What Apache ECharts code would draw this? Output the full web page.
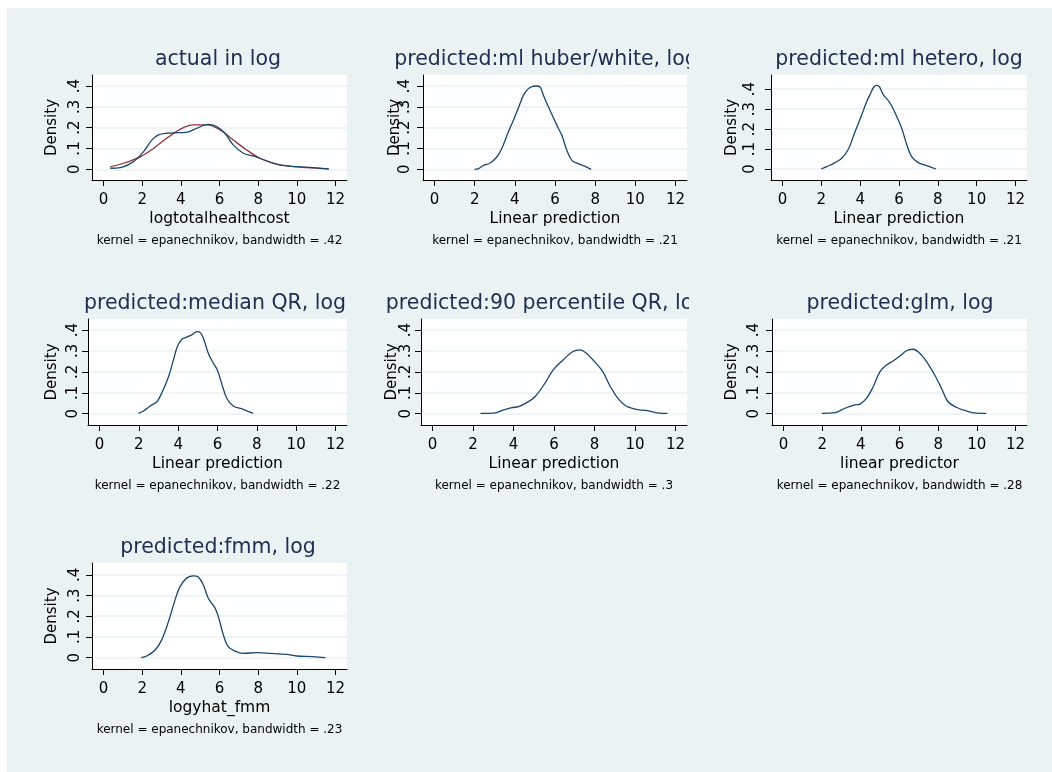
<!DOCTYPE html>
<html>
<head>
<meta charset="utf-8">
<script src="https://cdn.jsdelivr.net/npm/echarts@6/dist/echarts.min.js"></script>
<style>
  html, body { margin: 0; padding: 0; background: #ffffff; }
  #frame { position: absolute; left: 7px; top: 8px; right: 0; bottom: 0; background: #eaf2f3; }
  #chart { position: absolute; left: 0; top: 0; width: 1052px; height: 772px; }
</style>
</head>
<body>
<div id="frame"></div>
<div id="chart"></div>
<script>
// Kernel density panels: actual log health cost vs. predictions from several models.

const panelTitles = [
  'actual in log',
  'predicted:ml huber/white, log',
  'predicted:ml hetero, log',
  'predicted:median QR, log',
  'predicted:90 percentile QR, log',
  'predicted:glm, log',
  'predicted:fmm, log'
];
const xAxisTitles = [
  'logtotalhealthcost',
  'Linear prediction',
  'Linear prediction',
  'Linear prediction',
  'Linear prediction',
  'linear predictor',
  'logyhat_fmm'
];
const bandwidths = ['.42', '.21', '.21', '.22', '.3', '.28', '.23'];
const yAxisTitle = 'Density';

const xTicks = [0, 2, 4, 6, 8, 10, 12];
const yTicks = [0, 0.1, 0.2, 0.3, 0.4];
const yTickLabels = ['0', '.1', '.2', '.3', '.4'];

// [x, density] pairs
const kdActual = [
  [0.35, 0.005], [0.86, 0.008], [1.55, 0.037], [2.07, 0.085], [2.5, 0.14],
  [2.84, 0.165], [3.27, 0.173], [3.96, 0.176], [4.39, 0.18], [4.82, 0.197],
  [5.42, 0.216], [5.85, 0.205], [6.28, 0.173], [6.71, 0.117], [7.23, 0.077],
  [7.74, 0.064], [8.43, 0.041], [9.12, 0.021], [9.98, 0.013], [10.84, 0.008],
  [11.65, 0.002]
];
const normalActual = [
  [0.35, 0.012], [1.03, 0.029], [1.9, 0.06], [2.58, 0.1], [3.27, 0.149],
  [3.96, 0.192], [4.65, 0.213], [5.34, 0.213], [6.03, 0.189], [6.71, 0.141],
  [7.4, 0.093], [8.09, 0.053], [8.78, 0.029], [9.47, 0.016], [10.5, 0.008],
  [11.65, 0.002]
];
const kdHuber = [
  [1.99, 0.0], [2.19, 0.003], [2.44, 0.019], [2.77, 0.03], [3.1, 0.059],
  [3.35, 0.1], [3.68, 0.18], [3.93, 0.236], [4.23, 0.308], [4.43, 0.356],
  [4.65, 0.385], [4.85, 0.397], [5.05, 0.4], [5.25, 0.396], [5.42, 0.356],
  [5.67, 0.3], [6.09, 0.212], [6.34, 0.163], [6.59, 0.091], [6.84, 0.043],
  [7.16, 0.027], [7.5, 0.014], [7.8, 0.0]
];
const kdHetero = [
  [1.99, 0.0], [2.28, 0.012], [2.71, 0.032], [3.05, 0.054], [3.39, 0.099],
  [3.74, 0.187], [4.08, 0.271], [4.34, 0.338], [4.51, 0.372], [4.7, 0.41],
  [4.85, 0.418], [5.0, 0.41], [5.19, 0.372], [5.54, 0.33], [5.88, 0.263],
  [6.14, 0.204], [6.4, 0.121], [6.65, 0.062], [6.99, 0.032], [7.42, 0.017],
  [7.9, 0.0]
];
const kdMedianQR = [
  [1.99, 0.002], [2.24, 0.013], [2.58, 0.037], [2.92, 0.057], [3.17, 0.1],
  [3.51, 0.177], [3.76, 0.257], [3.96, 0.321], [4.19, 0.356], [4.44, 0.366],
  [4.69, 0.377], [4.95, 0.392], [5.08, 0.391], [5.28, 0.361], [5.53, 0.289],
  [5.79, 0.241], [5.99, 0.209], [6.21, 0.145], [6.47, 0.074], [6.8, 0.037],
  [7.31, 0.021], [7.81, 0.002]
];
const kd90QR = [
  [2.37, 0.002], [3.02, 0.003], [3.51, 0.018], [3.92, 0.029], [4.25, 0.034],
  [4.66, 0.053], [5.06, 0.081], [5.55, 0.145], [5.96, 0.209], [6.45, 0.257],
  [6.94, 0.297], [7.27, 0.305], [7.6, 0.289], [8.0, 0.249], [8.41, 0.201],
  [8.74, 0.137], [9.15, 0.074], [9.56, 0.037], [10.21, 0.018], [10.54, 0.016],
  [11.19, 0.003], [11.6, 0.002]
];
const kdGlm = [
  [1.98, 0.002], [2.67, 0.005], [3.18, 0.026], [3.7, 0.042], [3.96, 0.046],
  [4.3, 0.074], [4.64, 0.129], [4.99, 0.201], [5.33, 0.233], [5.67, 0.252],
  [6.02, 0.276], [6.36, 0.301], [6.7, 0.308], [7.05, 0.289], [7.4, 0.249],
  [7.82, 0.185], [8.17, 0.122], [8.51, 0.057], [8.94, 0.031], [9.46, 0.013],
  [9.97, 0.003], [10.49, 0.002]
];
const kdFmm = [
  [1.95, 0.0], [2.24, 0.008], [2.67, 0.037], [3.01, 0.086], [3.36, 0.174],
  [3.7, 0.279], [3.96, 0.343], [4.3, 0.384], [4.65, 0.395], [4.9, 0.389],
  [5.16, 0.352], [5.42, 0.287], [5.77, 0.239], [5.94, 0.198], [6.2, 0.11],
  [6.45, 0.053], [6.8, 0.032], [7.23, 0.021], [7.92, 0.024], [8.61, 0.021],
  [9.47, 0.016], [9.98, 0.008], [10.84, 0.005], [11.48, 0.0]
];

const panelCurves = [
  [kdActual, normalActual],
  [kdHuber], [kdHetero], [kdMedianQR], [kd90QR], [kdGlm], [kdFmm]
];

// plot-region geometry of each panel (pixels), title centre and density range
const layout = [
  { left: 92,  top: 75,  width: 255, height: 105, titleX: 218, ymin: -0.0514, ymax: 0.4528, lblGap: 9,  nameGap: 32 },
  { left: 423, top: 75,  width: 264, height: 105, titleX: 546, ymin: -0.0514, ymax: 0.4528, lblGap: 10, nameGap: 20 },
  { left: 771, top: 75,  width: 256, height: 105, titleX: 899, ymin: -0.055,  ymax: 0.47,   lblGap: 13, nameGap: 31 },
  { left: 88,  top: 319, width: 259, height: 106, titleX: 215, ymin: -0.054,  ymax: 0.4526, lblGap: 7,  nameGap: 28 },
  { left: 421, top: 319, width: 266, height: 106, titleX: 546, ymin: -0.054,  ymax: 0.4526, lblGap: 7,  nameGap: 21 },
  { left: 772, top: 319, width: 255, height: 106, titleX: 900, ymin: -0.054,  ymax: 0.4526, lblGap: 10, nameGap: 32 },
  { left: 92,  top: 563, width: 255, height: 106, titleX: 218, ymin: -0.0547, ymax: 0.457,  lblGap: 9,  nameGap: 32 }
];

const BG = '#eaf2f3';
const NAVY = '#1a476f';
const MAROON = '#90353b';
const TITLE_COLOR = '#1e2d50';
const FONT = '"DejaVu Sans", "Liberation Sans", Arial, sans-serif';
const SIDE_PAD = 11.5; // px between plot edge and first/last x tick
const TITLE_CLIP_X = 689; // right edge of the middle column's title area

const grids = [], xAxes = [], yAxes = [], series = [], graphics = [];

layout.forEach((p, i) => {
  grids.push({
    left: p.left, top: p.top, width: p.width, height: p.height,
    show: true, backgroundColor: '#ffffff', borderWidth: 0,
    containLabel: false, outerBoundsMode: 'none'
  });

  const unitPx = (p.width - 2 * SIDE_PAD) / (xTicks[xTicks.length - 1] - xTicks[0]);
  const xPad = SIDE_PAD / unitPx;

  xAxes.push({
    gridIndex: i, type: 'value',
    min: xTicks[0] - xPad, max: xTicks[xTicks.length - 1] + xPad,
    name: xAxisTitles[i], nameLocation: 'middle', nameGap: 31,
    nameMoveOverlap: false,
    nameTextStyle: { fontFamily: FONT, fontSize: 15.5, color: '#000' },
    axisLine: { show: true, onZero: false, lineStyle: { color: '#000', width: 1 } },
    axisTick: { show: true, customValues: xTicks, length: 6, lineStyle: { color: '#000', width: 1 } },
    axisLabel: {
      show: true, customValues: xTicks, margin: 13,
      fontFamily: FONT, fontSize: 15, color: '#000',
      formatter: v => String(Math.round(v))
    },
    splitLine: { show: false }
  });

  yAxes.push({
    gridIndex: i, type: 'value',
    min: p.ymin, max: p.ymax,
    name: yAxisTitle, nameLocation: 'middle', nameRotate: 90, nameGap: p.nameGap,
    nameMoveOverlap: false,
    nameTextStyle: { fontFamily: FONT, fontSize: 15, color: '#000' },
    axisLine: { show: true, onZero: false, lineStyle: { color: '#000', width: 1 } },
    axisTick: { show: true, customValues: yTicks, length: 6, lineStyle: { color: '#000', width: 1 } },
    axisLabel: {
      show: true, customValues: yTicks, rotate: 90, margin: p.lblGap,
      fontFamily: FONT, fontSize: 15, color: '#000',
      formatter: v => {
        const k = yTicks.findIndex(t => Math.abs(t - v) < 1e-9);
        return k >= 0 ? yTickLabels[k] : '';
      }
    },
    splitLine: { show: true, lineStyle: { color: BG, width: 1.5 } }
  });

  panelCurves[i].forEach((curve, j) => {
    series.push({
      type: 'line', xAxisIndex: i, yAxisIndex: i,
      data: curve, showSymbol: false, smooth: 0.35,
      lineStyle: { color: j === 0 ? NAVY : MAROON, width: 1.3 },
      z: j === 0 ? 3 : 2
    });
  });

  graphics.push({
    type: 'text', x: p.titleX, y: p.top - 15, z: 10,
    style: {
      text: panelTitles[i], fill: TITLE_COLOR,
      font: '20.5px ' + FONT, textAlign: 'center', textVerticalAlign: 'middle'
    }
  });
  graphics.push({
    type: 'text', x: p.left + p.width / 2, y: p.top + p.height + 61, z: 10,
    style: {
      text: 'kernel = epanechnikov, bandwidth = ' + bandwidths[i], fill: '#000',
      font: '12px ' + FONT, textAlign: 'center', textVerticalAlign: 'middle'
    }
  });
});

// long titles in the middle column are cut at the edge of their panel
[1, 4].forEach(i => {
  const p = layout[i];
  graphics.push({
    type: 'rect', z: 20, silent: true,
    shape: { x: TITLE_CLIP_X, y: p.top - 30, width: 70, height: 29 },
    style: { fill: BG }
  });
});

const chart = echarts.init(document.getElementById('chart'), null, { renderer: 'canvas' });
chart.setOption({
  animation: false,
  backgroundColor: 'transparent',
  grid: grids,
  xAxis: xAxes,
  yAxis: yAxes,
  series: series,
  graphic: graphics
});
</script>
</body>
</html>
